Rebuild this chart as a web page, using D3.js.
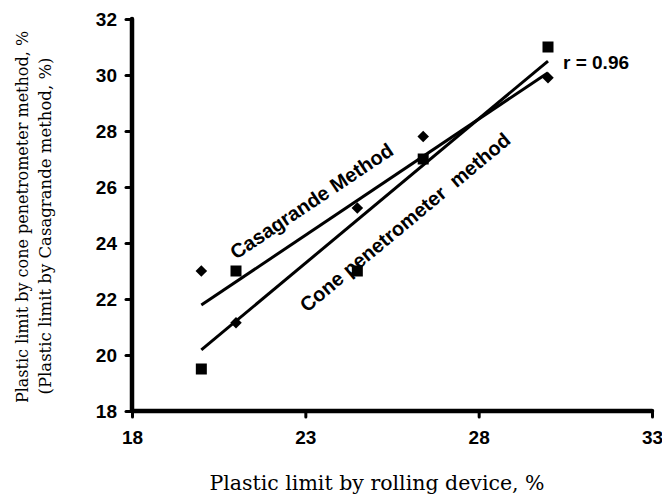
<!DOCTYPE html>
<html>
<head>
<meta charset="utf-8">
<script src="https://cdn.jsdelivr.net/npm/d3@7"></script>
<style>
  body { margin: 0; background: #fff; }
  svg { display: block; }
</style>
</head>
<body>
<div id="chart"></div>
<script>
// rolling device values (x) shared by both methods
const rollingValues = [20, 21, 24.5, 26.4, 30];
const coneValues = [19.5, 23, 23, 27, 31];          // squares
const casagrandeValues = [23, 21.15, 25.25, 27.8, 29.9]; // diamonds
const xTicks = [18, 23, 28, 33];
const yTicks = [18, 20, 22, 24, 26, 28, 30, 32];
const rText = 'r = 0.96';

const width = 662, height = 502;
const margin = { top: 19, right: 10, bottom: 91, left: 132 };

const svg = d3.select('#chart')
  .append('svg')
  .attr('width', width)
  .attr('height', height);

const x = d3.scaleLinear().domain([18, 33]).range([margin.left, width - margin.right]);
const y = d3.scaleLinear().domain([18, 32]).range([height - margin.bottom, margin.top]);

// least squares fit
function fit(xs, ys) {
  const mx = d3.mean(xs), my = d3.mean(ys);
  const sxy = d3.sum(xs, (v, i) => (v - mx) * (ys[i] - my));
  const sxx = d3.sum(xs, v => (v - mx) * (v - mx));
  const b = sxy / sxx;
  return { b, a: my - b * mx };
}

const labelFont = 'Liberation Sans, Arial, sans-serif';

// axes
const xAxis = svg.append('g')
  .attr('transform', `translate(0,${y(18)})`)
  .call(d3.axisBottom(x).tickValues(xTicks).tickSize(6).tickPadding(14).tickFormat(d3.format('d')));

const yAxis = svg.append('g')
  .attr('transform', `translate(${x(18)},0)`)
  .call(d3.axisLeft(y).tickValues(yTicks).tickSize(6).tickPadding(9).tickFormat(d3.format('d')));

[xAxis, yAxis].forEach(g => {
  g.attr('font-family', labelFont).attr('font-size', 19).attr('font-weight', 'bold');
  g.select('.domain').attr('stroke', '#000').attr('stroke-width', 4.5).attr('stroke-linecap', 'round');
  g.selectAll('.tick line').attr('stroke', '#000').attr('stroke-width', 3).attr('stroke-linecap', 'round');
  g.selectAll('.tick text').attr('fill', '#000');
});
xAxis.select('.domain').attr('d', `M${x(18)},0H${x(33)}`);
yAxis.select('.domain').attr('d', `M0,${y(18)}V${y(32)}`);

// fit lines
const plot = svg.append('g');
const xExt = d3.extent(rollingValues);
[coneValues, casagrandeValues].forEach(vals => {
  const f = fit(rollingValues, vals);
  plot.append('line')
    .attr('x1', x(xExt[0])).attr('y1', y(f.a + f.b * xExt[0]))
    .attr('x2', x(xExt[1])).attr('y2', y(f.a + f.b * xExt[1]))
    .attr('stroke', '#000')
    .attr('stroke-width', 3);
});

// markers
plot.selectAll('rect.cone')
  .data(rollingValues)
  .join('rect')
  .attr('class', 'cone')
  .attr('x', d => x(d) - 5.5)
  .attr('y', (d, i) => y(coneValues[i]) - 5.5)
  .attr('width', 11)
  .attr('height', 11)
  .attr('fill', '#000');

plot.selectAll('path.casa')
  .data(rollingValues)
  .join('path')
  .attr('class', 'casa')
  .attr('d', d3.symbol(d3.symbolDiamond2, 85))
  .attr('transform', (d, i) => `translate(${x(d)},${y(casagrandeValues[i])})`)
  .attr('fill', '#000');

// labels
const coneFit = fit(rollingValues, coneValues);
const casaFit = fit(rollingValues, casagrandeValues);
const angleOf = f => -Math.atan2(f.b * (y(18) - y(19)), x(19) - x(18)) * 180 / Math.PI;

svg.append('text')
  .attr('transform', `translate(236,260) rotate(${angleOf(casaFit)})`)
  .style('font-family', labelFont)
  .style('font-weight', 'bold')
  .style('font-size', '20px')
  .text('Casagrande Method');

svg.append('text')
  .attr('transform', `translate(307,313) rotate(${angleOf(coneFit)})`)
  .style('font-family', labelFont)
  .style('font-weight', 'bold')
  .style('font-size', '20px')
  .style('white-space', 'pre')
  .text('Cone penetrometer  method');

svg.append('text')
  .attr('x', 563)
  .attr('y', 69)
  .style('font-family', labelFont)
  .style('font-weight', 'bold')
  .style('font-size', '19px')
  .text(rText);

// axis titles
const titleFont = 'DejaVu Serif, serif';
svg.append('text')
  .attr('x', 377)
  .attr('y', 490)
  .attr('text-anchor', 'middle')
  .style('font-family', titleFont)
  .style('font-size', '20.5px')
  .text('Plastic limit by rolling device, %');

svg.append('text')
  .attr('transform', 'translate(28,217) rotate(-90)')
  .attr('text-anchor', 'middle')
  .style('font-family', titleFont)
  .style('font-size', '16px')
  .text('Plastic limit by cone penetrometer method, %');

svg.append('text')
  .attr('transform', 'translate(51,226) rotate(-90)')
  .attr('text-anchor', 'middle')
  .style('font-family', titleFont)
  .style('font-size', '16.5px')
  .text('(Plastic limit by Casagrande method, %)');
</script>
</body>
</html>
